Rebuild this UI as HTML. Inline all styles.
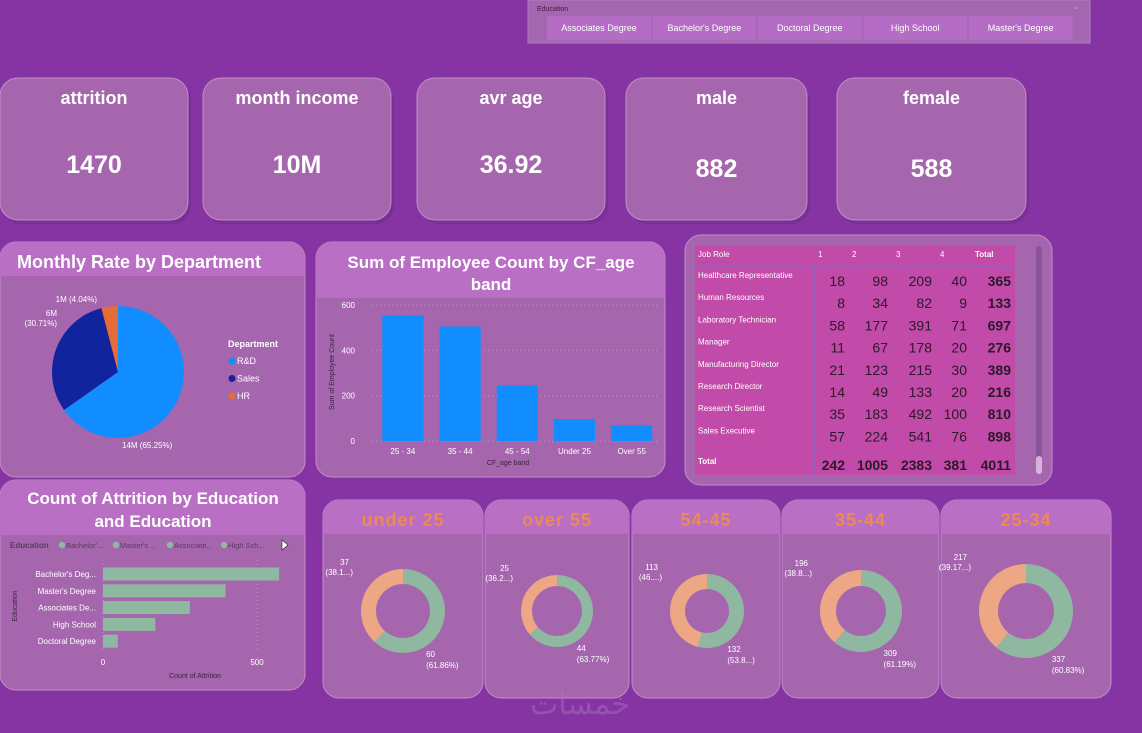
<!DOCTYPE html>
<html><head><meta charset="utf-8">
<style>
html,body{margin:0;padding:0;background:#8634a3;width:1142px;height:733px;overflow:hidden}
svg{display:block;font-family:"Liberation Sans",sans-serif}
</style></head>
<body>
<svg id="dash" width="1142" height="733" viewBox="0 0 1142 733" xmlns="http://www.w3.org/2000/svg">
<rect x="0" y="0" width="1142" height="733" fill="#8634a3"/>

<g>
<rect x="528" y="0" width="562" height="43" fill="#a466b0" stroke="#b47cc0"/>
<text x="537" y="11" font-size="7" fill="#3d2140">Education</text>
<text x="1073" y="9" font-size="8" fill="#c9a0d0">⌄</text>
<g id="slicerBtns"></g>
</g>

<g id="kpis"></g>

<g>
<rect x="0" y="242" width="305" height="235" rx="16" fill="#a566ae" stroke="#c28dcb"/>
<path d="M0 258 a16 16 0 0 1 16 -16 h273 a16 16 0 0 1 16 16 v18 h-305z" fill="#b86fc4"/>
<text x="139" y="268" font-size="18" font-weight="bold" fill="#fff" text-anchor="middle">Monthly Rate by Department</text>
<g id="pie"></g>
<text x="228" y="347" font-size="9" font-weight="bold" fill="#fff">Department</text>
<g id="pieLegend"></g>
</g>

<g>
<rect x="316" y="242" width="349" height="235" rx="16" fill="#a566ae" stroke="#c28dcb"/>
<path d="M316 258 a16 16 0 0 1 16 -16 h317 a16 16 0 0 1 16 16 v40 h-349z" fill="#b86fc4"/>
<text x="491" y="268" font-size="17" font-weight="bold" fill="#fff" text-anchor="middle">Sum of Employee Count by CF_age</text>
<text x="491" y="290" font-size="17" font-weight="bold" fill="#fff" text-anchor="middle">band</text>
<g id="colChart"></g>
<text x="508" y="465" font-size="7" fill="#3d2140" text-anchor="middle">CF_age band</text>
<text transform="translate(334,372) rotate(-90)" font-size="7" fill="#3d2140" text-anchor="middle">Sum of Employee Count</text>
</g>

<g>
<rect x="685" y="235" width="367" height="250" rx="16" fill="#a566ae" stroke="#c28dcb"/>
<rect x="695" y="245" width="320" height="230" fill="#c24aa8"/>
<line x1="695" y1="266" x2="1015" y2="266" stroke="#5a7fd8" stroke-width="0.8"/>
<line x1="814" y1="266" x2="814" y2="475" stroke="#5a7fd8" stroke-width="0.8"/>
<rect x="1036" y="246" width="6" height="228" rx="3" fill="#8a5598"/>
<rect x="1036" y="456" width="6" height="18" rx="3" fill="#d7b2dd"/>
<g id="matrix"></g>
</g>

<g>
<rect x="0" y="480" width="305" height="210" rx="16" fill="#a566ae" stroke="#c28dcb"/>
<path d="M0 496 a16 16 0 0 1 16 -16 h273 a16 16 0 0 1 16 16 v39 h-305z" fill="#b86fc4"/>
<text x="153" y="504" font-size="17" font-weight="bold" fill="#fff" text-anchor="middle">Count of Attrition by Education</text>
<text x="153" y="527" font-size="17" font-weight="bold" fill="#fff" text-anchor="middle">and Education</text>
<text x="10" y="548" font-size="8" font-weight="bold" fill="#5a3a60">Education</text>
<g id="eduLegend"></g>
<path d="M282 540 l6 5 l-6 5z" fill="#fff" stroke="#222" stroke-width="0.6"/>
<g id="hbar"></g>
<text x="195" y="678" font-size="7" fill="#3d2140" text-anchor="middle">Count of Attrition</text>
<text transform="translate(17,606) rotate(-90)" font-size="7" fill="#3d2140" text-anchor="middle">Education</text>
</g>

<g id="donuts"></g>
<text x="580" y="714" font-size="30" fill="#a77ab8" opacity="0.45" text-anchor="middle" font-family="'Noto Sans CJK SC',sans-serif">خمسات</text>
</svg>

<script>
const NS='http://www.w3.org/2000/svg';
function mk(tag,attrs,parent,txt){const e=document.createElementNS(NS,tag);for(const k in attrs)e.setAttribute(k,attrs[k]);if(txt!==undefined)e.textContent=txt;parent.appendChild(e);return e;}

const slicerItems=["Associates Degree","Bachelor's Degree","Doctoral Degree","High School","Master's Degree"];
const kpiTitles=["attrition","month income","avr age","male","female"];
const kpiValues=["1470","10M","36.92","882","588"];
const deptNames=["R&D","Sales","HR"];
const deptValues=[65.25,30.71,4.04];
const deptLabels=["14M (65.25%)","6M (30.71%)","1M (4.04%)"];
const ageBands=["25 - 34","35 - 44","45 - 54","Under 25","Over 55"];
const ageCounts=[554,505,245,97,69];
const ageTicks=[0,200,400,600];
const jobRoles=["Healthcare Representative","Human Resources","Laboratory Technician","Manager","Manufacturing Director","Research Director","Research Scientist","Sales Executive"];
const lvl1=[18,8,58,11,21,14,35,57];
const lvl2=[98,34,177,67,123,49,183,224];
const lvl3=[209,82,391,178,215,133,492,541];
const lvl4=[40,9,71,20,30,20,100,76];
const roleTotals=[365,133,697,276,389,216,810,898];
const colTotals=[242,1005,2383,381,4011];
const eduNames=["Bachelor's Deg...","Master's Degree","Associates De...","High School","Doctoral Degree"];
const eduAttrition=[572,398,282,170,48];
const eduTicks=[0,500];
const donutTitles=["under 25","over 55","54-45","35-44","25-34"];
const donutNo=[60,44,132,309,337];
const donutYes=[37,25,113,196,217];
const donutNoLbl=["(61.86%)","(63.77%)","(53.8...)","(61.19%)","(60.83%)"];
const donutYesLbl=["(38.1...)","(36.2...)","(46....)","(38.8...)","(39.17...)"];

const sb=document.getElementById('slicerBtns');
slicerItems.forEach((s,i)=>{
  const x=547+i*105.4;
  const r=mk('rect',{x:x,y:16,width:104,height:24,fill:'#b46cc4'},sb);
  
  
  const t=mk('text',{x:x+52,y:31,'font-size':9,fill:'#fff','text-anchor':'middle'},sb,s);
  
  
});

const kpiX=[0,203,417,626,837],kpiW=[188,188,188,181,189];
const kg=document.getElementById('kpis');
kpiTitles.forEach((t,i)=>{
  const g=mk('g',{},kg);
  
  
  mk('rect',{x:kpiX[i]+3,y:82,width:kpiW[i],height:142,rx:18,fill:'#6c2a86',opacity:0.5},g);
  const r=mk('rect',{x:kpiX[i],y:78,width:kpiW[i],height:142,rx:18,fill:'#a566ae',stroke:'#c28dcb'},g);
  
  
  const a=mk('text',{x:kpiX[i]+kpiW[i]/2,y:104,'font-size':18,'font-weight':'bold',fill:'#fff','text-anchor':'middle'},g,t);
  
  
  const b=mk('text',{x:kpiX[i]+kpiW[i]/2,y:[173,173,173,177,177][i],'font-size':25,'font-weight':'bold',fill:'#fff','text-anchor':'middle'},g,kpiValues[i]);
  
  
});

function arcPath(cx,cy,r,a0,a1,ri){
  const p=(a,rr)=>[cx+rr*Math.sin(a),cy-rr*Math.cos(a)];
  const large=(a1-a0)>Math.PI?1:0;
  const [x0,y0]=p(a0,r),[x1,y1]=p(a1,r);
  if(!ri) return `M${cx},${cy}L${x0},${y0}A${r},${r} 0 ${large} 1 ${x1},${y1}Z`;
  const [x2,y2]=p(a1,ri),[x3,y3]=p(a0,ri);
  return `M${x0},${y0}A${r},${r} 0 ${large} 1 ${x1},${y1}L${x2},${y2}A${ri},${ri} 0 ${large} 0 ${x3},${y3}Z`;
}
const pieColors=['#118dff','#12239e','#e66c37'];
const pg=document.getElementById('pie');
const pieTot=deptValues.reduce((a,b)=>a+b,0);
let ang=0;
deptValues.forEach((v,i)=>{
  const a1=ang+v/pieTot*2*Math.PI;
  const p=mk('path',{d:arcPath(118,372,66,ang,a1),fill:pieColors[i]},pg);
  
  
  ang=a1;
});
const pieLblPos=[[122,448,'start'],[57,326,'end'],[97,302,'end']];
deptLabels.forEach((l,i)=>{
  const [x,y,an]=pieLblPos[i];
  if(i===1){
    const a=mk('text',{x:x,y:y-10,'font-size':8,fill:'#fff','text-anchor':an},pg,l.split(' ')[0]);
    
    
    const b=mk('text',{x:x,y:y,'font-size':8,fill:'#fff','text-anchor':an},pg,l.split(' ')[1]);
    
    
  } else {
    const a=mk('text',{x:x,y:y,'font-size':8,fill:'#fff','text-anchor':an},pg,l);
    
    
  }
});
const pl=document.getElementById('pieLegend');
deptNames.forEach((d,i)=>{
  const c=mk('circle',{cx:232,cy:361+i*17.5,r:3.5,fill:pieColors[i]},pl);
  
  
  const t=mk('text',{x:237,y:364+i*17.5,'font-size':9,fill:'#fff'},pl,d);
  
  
});

const cg=document.getElementById('colChart');
const cy0=441,cy1=305,cx0=372,cx1=658;
const yS=v=>cy0-(v/600)*(cy0-cy1);
const band=(cx1-cx0)/ageBands.length;
ageTicks.forEach(t=>{
  const l=mk('line',{x1:cx0,x2:cx1,y1:yS(t),y2:yS(t),stroke:'#c79ad0','stroke-dasharray':'1,3','stroke-width':0.8},cg);
  
  
  const tx=mk('text',{x:355,y:yS(t)+3,'font-size':8,fill:'#fff','text-anchor':'end'},cg,t);
  
  
});
ageBands.forEach((b,i)=>{
  const x=cx0+band*i+band*0.18,w=band*0.72;
  const r=mk('rect',{x:x,y:yS(ageCounts[i]),width:w,height:cy0-yS(ageCounts[i]),fill:'#118dff'},cg);
  
  
  const t=mk('text',{x:x+w/2,y:454,'font-size':8,fill:'#fff','text-anchor':'middle'},cg,b);
  
  
});

const mg=document.getElementById('matrix');
const hdr=["1","2","3","4","Total"];
let h=mk('text',{x:698,y:257,'font-size':8,fill:'#fff'},mg,'Job Role');


hdr.forEach((c,i)=>{
  const t=mk('text',{x:[818,852,896,940,975][i],y:257,'font-size':8,'font-weight':i===4?'bold':'normal',fill:'#fff'},mg,c);
  
  
});
jobRoles.forEach((r,i)=>{
  const y=278+i*22.2;
  const t=mk('text',{x:698,y:y,'font-size':8,fill:'#fff'},mg,r);
  
  
  const vals=[lvl1[i],lvl2[i],lvl3[i],lvl4[i],roleTotals[i]];
  vals.forEach((v,j)=>{
    const c=mk('text',{x:[845,888,932,967,1011][j],y:y+8,'font-size':14,'font-weight':j===4?'bold':'normal',fill:'#2a1a2a','text-anchor':'end'},mg,v);
    
    
  });
});
// partially hidden row
const ph=mk('text',{x:698,y:459,'font-size':8,fill:'#fff',opacity:0.6},mg,'Sales Representative');


mk('rect',{x:695,y:452,width:320,height:23,fill:'#c24aa8'},mg);
const tl=mk('text',{x:698,y:464,'font-size':8,'font-weight':'bold',fill:'#fff'},mg,'Total');


mk('line',{x1:814,y1:452,x2:814,y2:475,stroke:'#5a7fd8','stroke-width':0.8},mg);
colTotals.forEach((v,j)=>{
  const c=mk('text',{x:[845,888,932,967,1011][j],y:470,'font-size':14,'font-weight':'bold',fill:'#2a1a2a','text-anchor':'end'},mg,v);
  
  
});

const hg=document.getElementById('hbar');
const hx0=103,hx500=257;
const xS=v=>hx0+v/500*(hx500-hx0);
eduTicks.forEach(t=>{
  const l=mk('line',{x1:xS(t),x2:xS(t),y1:560,y2:650,stroke:'#c79ad0','stroke-dasharray':'1,3','stroke-width':0.8},hg);
  
  
  const tx=mk('text',{x:xS(t),y:665,'font-size':8,fill:'#fff','text-anchor':'middle'},hg,t);
  
  
});
eduNames.forEach((n,i)=>{
  const yc=574+i*16.8;
  const r=mk('rect',{x:hx0,y:yc-6.5,width:xS(eduAttrition[i])-hx0,height:13,fill:'#8fb8a0'},hg);
  
  
  const t=mk('text',{x:96,y:yc+3,'font-size':8,fill:'#fff','text-anchor':'end'},hg,n);
  
  
});
const el=document.getElementById('eduLegend');
["Bachelor'...","Master's ...","Associate...","High Sch..."].forEach((n,i)=>{
  const x=62+i*54;
  const c=mk('circle',{cx:x,cy:545,r:3.2,fill:'#8fb8a0'},el);
  
  
  const t=mk('text',{x:x+4,y:548,'font-size':7.5,fill:'#5a3a60'},el,n);
  
  
});

const dg=document.getElementById('donuts');
const cardX=[323,485,632,782,941],cardW=[160,144,148,157,170];
const dcx=[403,557,707,861,1026],dr=[42,36,37,41,47],dri=[27,25,22,25,28];
donutTitles.forEach((title,i)=>{
  const g=mk('g',{},dg);
  
  
  const x=cardX[i],w=cardW[i];
  mk('rect',{x:x,y:500,width:w,height:198,rx:16,fill:'#a566ae',stroke:'#c28dcb'},g);
  mk('path',{d:`M${x} 516 a16 16 0 0 1 16 -16 h${w-32} a16 16 0 0 1 16 16 v18 h${-w}z`,fill:'#b86fc4'},g);
  const tt=mk('text',{x:x+w/2,y:526,'font-size':18,'font-weight':'bold',fill:'#ec8a55','text-anchor':'middle','letter-spacing':1},g,title);
  
  
  const tot=donutNo[i]+donutYes[i];
  const a1=donutNo[i]/tot*2*Math.PI;
  const s1=mk('path',{d:arcPath(dcx[i],611,dr[i],0,a1,dri[i]),fill:'#8fb8a0'},g);
  
  
  const s2=mk('path',{d:arcPath(dcx[i],611,dr[i],a1,2*Math.PI-0.0001,dri[i]),fill:'#eda784'},g);
  
  
  const lx=dcx[i]-dr[i]-12, ly=611-dr[i]+2;
  const a=mk('text',{x:lx,y:ly-6,'font-size':8,fill:'#fff','text-anchor':'end'},g,donutYes[i]);
  
  
  const b=mk('text',{x:lx+4,y:ly+4,'font-size':8,fill:'#fff','text-anchor':'end'},g,donutYesLbl[i]);
  
  
  const rx=dcx[i]+dr[i]*0.55, ry=611+dr[i]+4;
  const c=mk('text',{x:rx,y:ry,'font-size':8,fill:'#fff'},g,donutNo[i]);
  
  
  const d=mk('text',{x:rx,y:ry+11,'font-size':8,fill:'#fff'},g,donutNoLbl[i]);
  
  
});
</script>
</body></html>
